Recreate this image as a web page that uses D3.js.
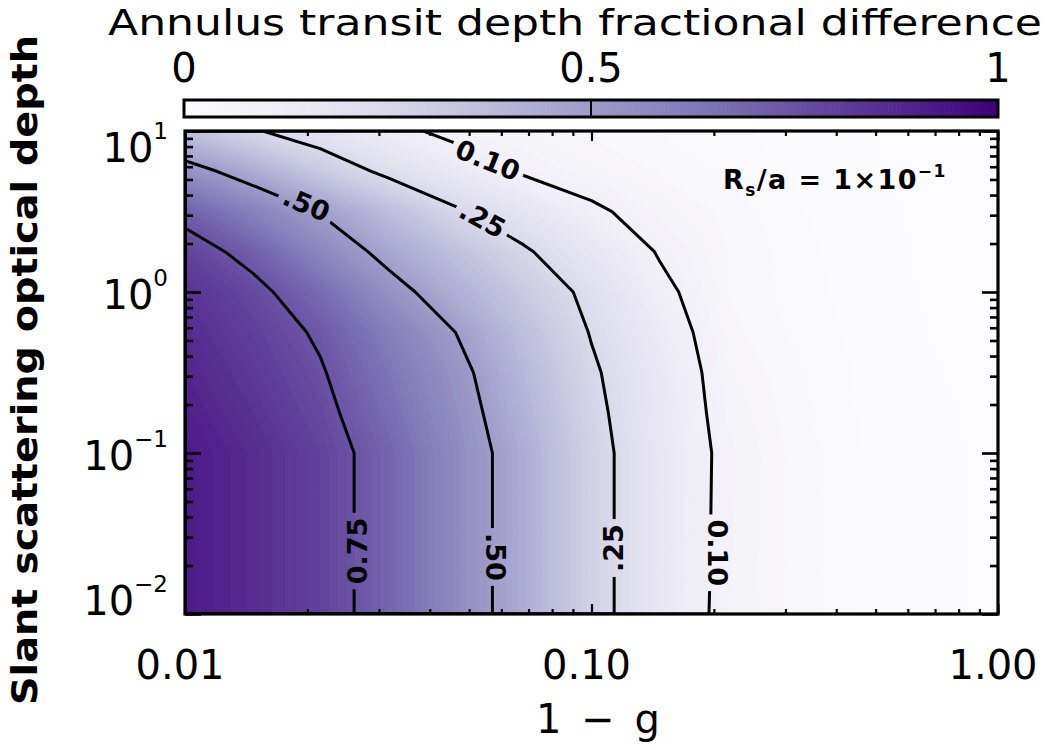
<!DOCTYPE html>
<html>
<head>
<meta charset="utf-8">
<script src="https://cdn.jsdelivr.net/npm/d3@7"></script>
<style>
  body { margin: 0; background: #fff; }
  svg { display: block; }
  text { font-family: "DejaVu Sans", "Noto Sans", sans-serif; fill: #000; }
</style>
</head>
<body>
<svg id="chart" width="1050" height="750"></svg>
<script>
// grid columns: 1 - g
var gGrid = [0.01, 0.0147, 0.0215, 0.0316, 0.0464, 0.0681, 0.1, 0.147, 0.215, 0.316, 0.464, 0.681, 1.0];
// grid rows: slant scattering optical depth (bottom -> top)
var tauGrid = [0.01, 0.0178, 0.0316, 0.0562, 0.1, 0.178, 0.316, 0.562, 1, 1.78, 3.16, 5.62, 10];
// annulus transit depth fractional difference, one row per tau
var fracDiff = [
  [0.92, 0.87, 0.80, 0.70, 0.57, 0.44, 0.29, 0.17, 0.075, 0.045, 0.025, 0.015, 0.01],
  [0.92, 0.87, 0.80, 0.70, 0.57, 0.44, 0.29, 0.17, 0.077, 0.045, 0.025, 0.015, 0.01],
  [0.92, 0.87, 0.80, 0.70, 0.57, 0.44, 0.29, 0.17, 0.078, 0.045, 0.025, 0.015, 0.01],
  [0.92, 0.87, 0.80, 0.70, 0.57, 0.44, 0.29, 0.17, 0.079, 0.045, 0.025, 0.015, 0.01],
  [0.92, 0.87, 0.80, 0.70, 0.57, 0.44, 0.29, 0.17, 0.08, 0.045, 0.025, 0.015, 0.01],
  [0.905, 0.85, 0.78, 0.675, 0.553, 0.42, 0.278, 0.165, 0.072, 0.042, 0.023, 0.014, 0.01],
  [0.89, 0.83, 0.76, 0.65, 0.535, 0.40, 0.265, 0.16, 0.065, 0.04, 0.022, 0.013, 0.01],
  [0.87, 0.81, 0.735, 0.617, 0.499, 0.371, 0.244, 0.145, 0.055, 0.035, 0.02, 0.012, 0.009],
  [0.85, 0.78, 0.68, 0.546, 0.431, 0.326, 0.222, 0.12, 0.05, 0.032, 0.018, 0.011, 0.008],
  [0.80, 0.715, 0.585, 0.464, 0.363, 0.263, 0.174, 0.094, 0.05, 0.03, 0.017, 0.01, 0.008],
  [0.715, 0.604, 0.494, 0.378, 0.263, 0.186, 0.113, 0.07, 0.045, 0.027, 0.016, 0.01, 0.007],
  [0.55, 0.443, 0.326, 0.225, 0.156, 0.09, 0.065, 0.048, 0.035, 0.024, 0.014, 0.009, 0.007],
  [0.36, 0.26, 0.191, 0.127, 0.075, 0.06, 0.047, 0.036, 0.028, 0.02, 0.013, 0.009, 0.007]
];

var contourLevels = [0.10, 0.25, 0.50, 0.75];

// contour labels (placed in data coords)
var lblText  = ["0.10", ".25", ".50", "0.75", ".50", ".25", "0.10"];
var lblG     = [0.0556, 0.054, 0.0199, 0.0265, 0.0582, 0.113, 0.204];
var lblTau   = [6.6, 2.84, 3.52, 0.0246, 0.0226, 0.0257, 0.024];
var lblAngle = [22, 29, 23, -90, 90, -90, 90];

var xMajor = [0.01, 0.1, 1];
var xMajorLabels = ["0.01", "0.10", "1.00"];
var yMajor = [0.01, 0.1, 1, 10];
var yMajorExp = ["\u22122", "\u22121", "0", "1"];
var cbarTicks = [0, 0.5, 1];
var cbarLabels = ["0", "0.5", "1"];

var L = 185, R = 998, T = 131, B = 614;

var svg = d3.select("#chart");
var x = d3.scaleLog().domain([0.01, 1]).range([L, R]);
var y = d3.scaleLog().domain([0.01, 10]).range([B, T]);
var color = d3.scaleSequential(d3.interpolatePurples).domain([0, 1]);

var defs = svg.append("defs");
defs.append("clipPath").attr("id", "plotclip")
  .append("rect").attr("x", L).attr("y", T).attr("width", R - L).attr("height", B - T);

// grid index -> pixel (values sit at cell centres in d3.contours output)
function gridToPx(arr, scale, c) {
  var t = Math.max(0, Math.min(arr.length - 1, c - 0.5));
  var i0 = Math.floor(t), i1 = Math.min(arr.length - 1, i0 + 1), f = t - i0;
  return scale(arr[i0]) + f * (scale(arr[i1]) - scale(arr[i0]));
}
var proj = d3.geoTransform({
  point: function (cx, cy) { this.stream.point(gridToPx(gGrid, x, cx), gridToPx(tauGrid, y, cy)); }
});
var path = d3.geoPath(proj);

var nx = gGrid.length, ny = tauGrid.length;
var values = [];
for (var j = 0; j < ny; j++) for (var i = 0; i < nx; i++) values.push(fracDiff[j][i]);

// filled bands
var fillThresholds = d3.range(0, 1, 0.0125);
var bands = d3.contours().size([nx, ny]).thresholds(fillThresholds)(values);
svg.append("g").attr("clip-path", "url(#plotclip)")
  .selectAll("path").data(bands).enter().append("path")
  .attr("d", path)
  .attr("fill", function (d) { return color(d.value); })
  .attr("stroke", function (d) { return color(d.value); })
  .attr("stroke-width", 0.6);

// label gaps in contour lines
var mask = defs.append("mask").attr("id", "lblmask").attr("maskUnits", "userSpaceOnUse")
  .attr("x", 0).attr("y", 0).attr("width", 1050).attr("height", 750);
mask.append("rect").attr("width", 1050).attr("height", 750).attr("fill", "#fff");

var lines = d3.contours().size([nx, ny]).thresholds(contourLevels)(values);
svg.append("g").attr("clip-path", "url(#plotclip)")
  .append("g").attr("mask", "url(#lblmask)")
  .selectAll("path").data(lines).enter().append("path")
  .attr("d", path)
  .attr("fill", "none")
  .attr("stroke", "#000")
  .attr("stroke-width", 3)
  .attr("stroke-linejoin", "round");

var lbl = svg.append("g").selectAll("text").data(lblText).enter().append("text")
  .attr("transform", function (d, i) {
    return "translate(" + x(lblG[i]) + "," + y(lblTau[i]) + ") rotate(" + lblAngle[i] + ")";
  })
  .attr("text-anchor", "middle")
  .attr("dy", "0.36em")
  .style("font-size", "27px")
  .style("font-weight", "bold")
  .text(function (d) { return d; });

lbl.each(function (d, i) {
  var w = this.getComputedTextLength() + 10;
  mask.append("rect")
    .attr("x", -w / 2).attr("y", -12).attr("width", w).attr("height", 24)
    .attr("fill", "#000")
    .attr("transform", "translate(" + x(lblG[i]) + "," + y(lblTau[i]) + ") rotate(" + lblAngle[i] + ")");
});

// axes: ticks pointing inward on all four sides
function isMajor(v) { return Math.abs(Math.log10(v) - Math.round(Math.log10(v))) < 1e-6; }
var xAll = x.ticks(), yAll = y.ticks();
var xMinor = xAll.filter(function (v) { return !isMajor(v); });
var yMinor = yAll.filter(function (v) { return !isMajor(v); });

function styleAxis(g, w) {
  g.select(".domain").remove();
  g.selectAll("line").attr("stroke", "#000").attr("stroke-width", w);
  g.selectAll("text").remove();
}
svg.append("g").attr("transform", "translate(0," + B + ")")
  .call(d3.axisBottom(x).tickValues(xMajor).tickSize(-10)).call(styleAxis, 2.2);
svg.append("g").attr("transform", "translate(0," + B + ")")
  .call(d3.axisBottom(x).tickValues(xMinor).tickSize(-5)).call(styleAxis, 2.2);
svg.append("g").attr("transform", "translate(0," + T + ")")
  .call(d3.axisTop(x).tickValues(xMajor).tickSize(-10)).call(styleAxis, 2.2);
svg.append("g").attr("transform", "translate(0," + T + ")")
  .call(d3.axisTop(x).tickValues(xMinor).tickSize(-5)).call(styleAxis, 2.2);
svg.append("g").attr("transform", "translate(" + L + ",0)")
  .call(d3.axisLeft(y).tickValues(yMajor).tickSize(-16)).call(styleAxis, 2.6);
svg.append("g").attr("transform", "translate(" + L + ",0)")
  .call(d3.axisLeft(y).tickValues(yMinor).tickSize(-8)).call(styleAxis, 2.6);
svg.append("g").attr("transform", "translate(" + R + ",0)")
  .call(d3.axisRight(y).tickValues(yMajor).tickSize(-16)).call(styleAxis, 2.6);
svg.append("g").attr("transform", "translate(" + R + ",0)")
  .call(d3.axisRight(y).tickValues(yMinor).tickSize(-8)).call(styleAxis, 2.6);

svg.append("rect").attr("x", L).attr("y", T).attr("width", R - L).attr("height", B - T)
  .attr("fill", "none").attr("stroke", "#000").attr("stroke-width", 3.2);

// x tick labels
svg.append("g").selectAll("text").data(xMajor).enter().append("text")
  .attr("x", function (d) { return x(d) - 5; })
  .attr("y", 679)
  .attr("text-anchor", "middle")
  .style("font-size", "40px")
  .text(function (d, i) { return xMajorLabels[i]; });

// y tick labels: 10 with superscript exponent
var yl = svg.append("g").selectAll("text").data(yMajor).enter().append("text")
  .attr("x", 168)
  .attr("y", function (d) { return Math.max(162, Math.min(615, y(d) + 17)); })
  .attr("text-anchor", "end")
  .style("font-size", "40px");
yl.append("tspan").text("10");
yl.append("tspan").attr("dy", -23).style("font-size", "23px")
  .text(function (d, i) { return yMajorExp[i]; });

// axis titles
svg.append("text")
  .attr("x", 598).attr("y", 733)
  .attr("text-anchor", "middle")
  .attr("textLength", 124).attr("lengthAdjust", "spacing")
  .style("font-size", "40px")
  .text("1 \u2212 g");

svg.append("text")
  .attr("transform", "translate(37,370) rotate(-90)")
  .attr("text-anchor", "middle")
  .attr("textLength", 670).attr("lengthAdjust", "spacingAndGlyphs")
  .style("font-size", "36px")
  .style("font-weight", "bold")
  .text("Slant scattering optical depth");

// R_s/a annotation
var ann = svg.append("text").attr("x", 723).attr("y", 189)
  .style("font-size", "27px").style("font-weight", "bold")
  .style("letter-spacing", "1.4px");
ann.append("tspan").text("R");
ann.append("tspan").attr("dy", 7).style("font-size", "17px").text("s");
ann.append("tspan").attr("dy", -7).text("/a  =  1\u00d710");
ann.append("tspan").attr("dy", -12).style("font-size", "17px").text("\u22121");

// colour bar
var cb = d3.scaleLinear().domain([0, 1]).range([184, 998]);
var cbSteps = d3.range(0, 1, 0.005);
svg.append("g").selectAll("rect").data(cbSteps).enter().append("rect")
  .attr("x", function (d) { return cb(d); })
  .attr("y", 100)
  .attr("width", cb(0.005) - cb(0) + 0.6)
  .attr("height", 17)
  .attr("fill", function (d) { return color(d + 0.0025); });
svg.append("line").attr("x1", cb(0.5)).attr("x2", cb(0.5)).attr("y1", 100).attr("y2", 117)
  .attr("stroke", "#000").attr("stroke-width", 2);
svg.append("rect").attr("x", 184).attr("y", 100).attr("width", 814).attr("height", 17)
  .attr("fill", "none").attr("stroke", "#000").attr("stroke-width", 3);

svg.append("g").selectAll("text").data(cbarTicks).enter().append("text")
  .attr("x", function (d) { return cb(d); })
  .attr("y", 82)
  .attr("text-anchor", "middle")
  .style("font-size", "40px")
  .text(function (d, i) { return cbarLabels[i]; });

svg.append("text")
  .attr("x", 108).attr("y", 35)
  .attr("textLength", 934).attr("lengthAdjust", "spacingAndGlyphs")
  .style("font-size", "36px")
  .text("Annulus transit depth fractional difference");
</script>
</body>
</html>
